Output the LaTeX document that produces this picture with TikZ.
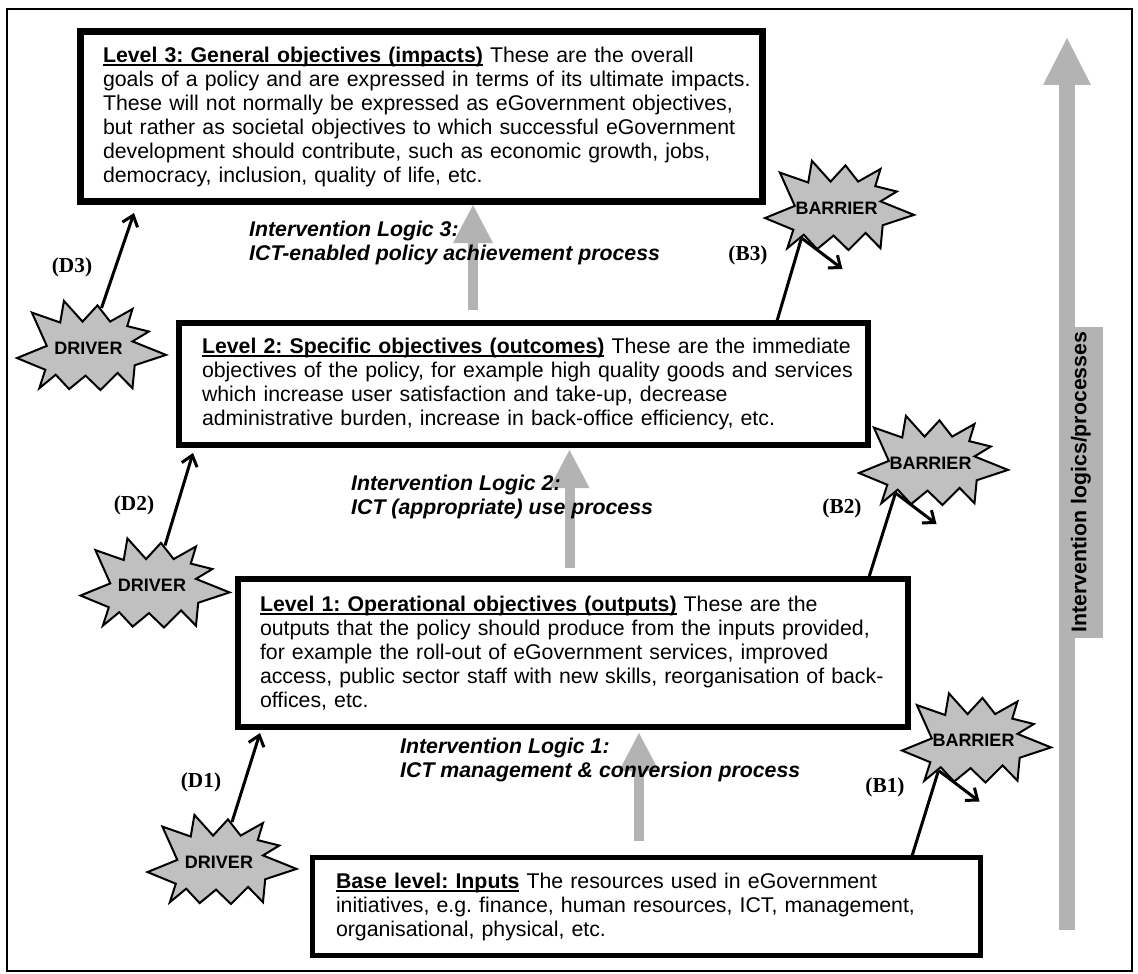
\documentclass[tikz,border=0pt]{standalone}
\usepackage{fontspec}
\setmainfont{Liberation Sans}
\newfontfamily\serifbf{Liberation Serif}
\usetikzlibrary{arrows.meta,calc}
\frenchspacing
\definecolor{arrowgray}{HTML}{B3B3B3}
\definecolor{burstgray}{HTML}{C0C0C0}
\newsavebox{\ulbox}
\newcommand{\myul}[1]{\sbox{\ulbox}{#1}\rlap{\rule[-3.5pt]{\wd\ulbox}{1.8pt}}\usebox{\ulbox}}
\newcommand{\burst}[3]{%
  \begin{scope}[shift={#2}, x=74.5pt, y=-45pt]
    \draw[burstshape] (-1.00,0.29) -- (-0.60,0.02) -- (-0.80,-0.72) -- (-0.42,-0.50)
      -- (-0.37,-0.98) -- (-0.12,-0.52) -- (0.08,-0.88) -- (0.25,-0.52)
      -- (0.55,-0.80) -- (0.48,-0.42) -- (0.77,-0.30) -- (0.55,-0.08)
      -- (1.00,0.22) -- (0.58,0.45) -- (0.55,0.96) -- (0.35,0.62)
      -- (0.12,1.00) -- (-0.08,0.68) -- (-0.30,0.98) -- (-0.48,0.66)
      -- (-0.70,0.96) -- (-0.62,0.55) -- cycle;
  \end{scope}
  \node[bursttext] (#1) at #2 {#3};}
\begin{document}
\begin{tikzpicture}[x=1pt,y=-1pt,
  box/.style={draw, fill=white, anchor=north west, align=left, inner ysep=0pt,
    font=\fontsize{21.3}{24}\selectfont},
  il/.style={anchor=base west, align=left, inner sep=0pt,
    font=\bfseries\itshape\fontsize{21.3}{24}\selectfont},
  lab/.style={inner sep=0pt, font=\serifbf\bfseries\fontsize{21.3}{24}\selectfont},
  burstshape/.style={draw=black, fill=burstgray, line width=2, line join=miter},
  bursttext/.style={inner sep=0pt, xshift=-3pt, yshift=-3pt,
    font=\bfseries\fontsize{18}{20}\selectfont},
  blk/.style={line width=3, -{Straight Barb[length=10pt,width=16pt]}},
  blkline/.style={line width=3},
  grayarrow/.style={arrowgray, line width=10,
    -{Triangle[length=38pt,width=40pt,line width=0pt]}},
  bigarrow/.style={arrowgray, line width=16,
    -{Triangle[length=47pt,width=48pt,line width=0pt]}}]
\useasboundingbox (0,0) rectangle (1138,974);
% frame
\draw[line width=2] (7,9) rectangle (1132,971);

% big intervention arrow and label
\coordinate (rbot) at (1067,930);
\coordinate (rtop) at (1067,38);
\draw[bigarrow] (rbot) -- (rtop);
\node[fill=arrowgray, rotate=90, minimum width=311, minimum height=44, inner sep=0pt,
  font=\bfseries\fontsize{21.3}{24}\selectfont] (ilp) at (1081,482) {Intervention logics/processes};

% gray process arrows
\coordinate (a3s) at (473,310);  \coordinate (a3e) at (473,205);
\coordinate (a2s) at (569.5,568); \coordinate (a2e) at (569.5,450);
\coordinate (a1s) at (639,841);  \coordinate (a1e) at (639,733);
\draw[grayarrow] (a3s) -- (a3e);
\draw[grayarrow] (a2s) -- (a2e);
\draw[grayarrow] (a1s) -- (a1e);

% boxes
\node[box, line width=7, minimum width=682.5, minimum height=170, text width=636.5, inner xsep=23] (l3) at (76.5,28)
 {\mbox{\myul{\textbf{Level 3: General objectives (impacts)}} These are the overall}\\
  \mbox{goals of a policy and are expressed in terms of its ultimate impacts.}\\
  \mbox{These will not normally be expressed as eGovernment objectives,}\\
  \mbox{but rather as societal objectives to which successful eGovernment}\\
  \mbox{development should contribute, such as economic growth, jobs,}\\
  \mbox{democracy, inclusion, quality of life, etc.}};
\node[box, line width=6, minimum width=689, minimum height=122, text width=643, inner xsep=23] (l2) at (176,320)
 {\mbox{\myul{\textbf{Level 2: Specific objectives (outcomes)}} These are the immediate}\\
  \mbox{objectives of the policy, for example high quality goods and services}\\
  \mbox{which increase user satisfaction and take-up, decrease}\\
  \mbox{administrative burden, increase in back-office efficiency, etc.}};
\node[box, line width=6, minimum width=670, minimum height=148, text width=626, inner xsep=22] (l1) at (235,576)
 {\mbox{\myul{\textbf{Level 1: Operational objectives (outputs)}} These are the}\\
  \mbox{outputs that the policy should produce from the inputs provided,}\\
  \mbox{for example the roll-out of eGovernment services, improved}\\
  \mbox{access, public sector staff with new skills, reorganisation of back-}\\
  \mbox{offices, etc.}};
\node[box, line width=5, minimum width=668, minimum height=98, text width=621, inner xsep=23.5] (l0) at (310,855)
 {\mbox{\myul{\textbf{Base level: Inputs}} The resources used in eGovernment}\\
  \mbox{initiatives, e.g. finance, human resources, ICT, management,}\\
  \mbox{organisational, physical, etc.}};

% intervention logic texts
\node[il] (il3) at (249,260) {Intervention Logic 3:\\ICT-enabled policy achievement process};
\node[il] (il2) at (351,514) {Intervention Logic 2:\\ICT (appropriate) use process};
\node[il] (il1) at (400,777) {Intervention Logic 1:\\ICT management \& conversion process};

% bursts
\coordinate (d3c) at (91.5,345);
\coordinate (d2c) at (155,582.5);
\coordinate (d1c) at (222,859);
\coordinate (b3c) at (839.5,205);
\coordinate (b2c) at (933.5,460);
\coordinate (b1c) at (976.5,737.5);
\burst{d3}{(d3c)}{DRIVER}
\burst{d2}{(d2c)}{DRIVER}
\burst{d1}{(d1c)}{DRIVER}
\burst{b3}{(b3c)}{BARRIER}
\burst{b2}{(b2c)}{BARRIER}
\burst{b1}{(b1c)}{BARRIER}

% driver connectors
\coordinate (d3t) at ($(d3c)+(10,-37)$);
\coordinate (d2t) at ($(d2c)+(10,-37)$);
\coordinate (d1t) at ($(d1c)+(10,-37)$);
\coordinate (l3in) at (134,213);
\coordinate (l2in) at (193,453);
\coordinate (l1in) at (260,733);
\draw[blk] (d3t) -- (l3in);
\draw[blk] (d2t) -- (l2in);
\draw[blk] (d1t) -- (l1in);

% barrier connectors
\coordinate (l2out) at (777,321);
\coordinate (l1out) at (869,577);
\coordinate (l0out) at (912,856);
\coordinate (b3k) at ($(b3c)+(-38,33)$);
\coordinate (b2k) at ($(b2c)+(-38,33)$);
\coordinate (b1k) at ($(b1c)+(-38,33)$);
\coordinate (b3e) at ($(b3c)+(3,64)$);
\coordinate (b2e) at ($(b2c)+(3,64)$);
\coordinate (b1e) at ($(b1c)+(3,64)$);
\draw[blkline] (l2out) -- (b3k);
\draw[blkline] (l1out) -- (b2k);
\draw[blkline] (l0out) -- (b1k);
\draw[blk] (b3k) -- (b3e);
\draw[blk] (b2k) -- (b2e);
\draw[blk] (b1k) -- (b1e);

% labels
\node[lab] (d3l) at (72,267) {(D3)};
\node[lab] (d2l) at (134,505) {(D2)};
\node[lab] (d1l) at (201,782) {(D1)};
\node[lab] (b3l) at (748,255) {(B3)};
\node[lab] (b2l) at (842,508) {(B2)};
\node[lab] (b1l) at (885,787) {(B1)};
\end{tikzpicture}
\end{document}
